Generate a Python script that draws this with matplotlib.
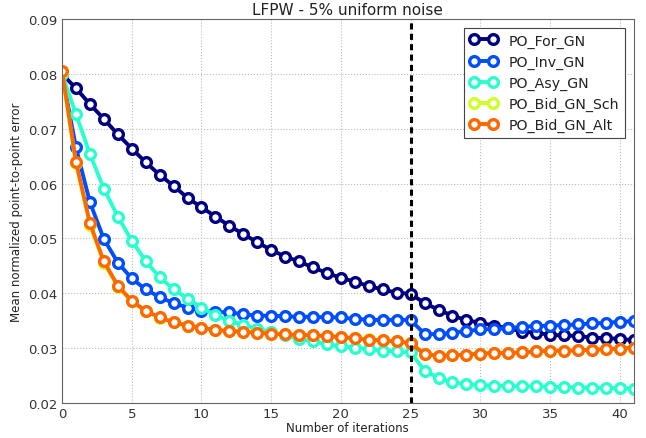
import numpy as np
import matplotlib
matplotlib.use("Agg")
import matplotlib.pyplot as plt

# mean normalized point-to-point error per iteration (iterations 0..41)
iters = np.arange(42)

po_for_gn = [0.0800, 0.0774, 0.0745, 0.0718, 0.0690, 0.0664, 0.0639, 0.0616, 0.0596, 0.0574,
             0.0557, 0.0540, 0.0523, 0.0508, 0.0493, 0.0479, 0.0467, 0.0458, 0.0447, 0.0437,
             0.0428, 0.0421, 0.0413, 0.0407, 0.0401, 0.0399, 0.0382, 0.0370, 0.0359, 0.0351,
             0.0346, 0.0341, 0.0336, 0.0330, 0.0328, 0.0324, 0.0323, 0.0322, 0.0319, 0.0318,
             0.0317, 0.0314]
po_inv_gn = [0.0800, 0.0666, 0.0566, 0.0499, 0.0456, 0.0427, 0.0407, 0.0393, 0.0382, 0.0374,
             0.0368, 0.0366, 0.0365, 0.0362, 0.0359, 0.0359, 0.0358, 0.0357, 0.0357, 0.0356,
             0.0356, 0.0353, 0.0352, 0.0351, 0.0352, 0.0351, 0.0326, 0.0325, 0.0328, 0.0331,
             0.0334, 0.0335, 0.0336, 0.0339, 0.0340, 0.0341, 0.0342, 0.0343, 0.0345, 0.0346,
             0.0348, 0.0349]
po_asy_gn = [0.0800, 0.0727, 0.0654, 0.0591, 0.0540, 0.0496, 0.0459, 0.0429, 0.0408, 0.0390,
             0.0374, 0.0360, 0.0350, 0.0342, 0.0335, 0.0330, 0.0323, 0.0317, 0.0312, 0.0307,
             0.0303, 0.0301, 0.0298, 0.0295, 0.0294, 0.0292, 0.0259, 0.0245, 0.0238, 0.0234,
             0.0232, 0.0231, 0.0231, 0.0230, 0.0230, 0.0229, 0.0229, 0.0228, 0.0228, 0.0227,
             0.0227, 0.0226]
po_bid_gn_sch = [0.0803, 0.0637, 0.0525, 0.0455, 0.0412, 0.0385, 0.0367, 0.0355, 0.0347, 0.0341,
                 0.0337, 0.0333, 0.0331, 0.0330, 0.0328, 0.0326, 0.0325, 0.0324, 0.0323, 0.0322,
                 0.0320, 0.0318, 0.0316, 0.0314, 0.0312, 0.0310, 0.0289, 0.0286, 0.0287, 0.0288,
                 0.0290, 0.0291, 0.0291, 0.0292, 0.0294, 0.0295, 0.0295, 0.0296, 0.0297, 0.0298,
                 0.0299, 0.0301]
po_bid_gn_alt = [0.0806, 0.0640, 0.0528, 0.0458, 0.0414, 0.0386, 0.0368, 0.0356, 0.0347, 0.0341,
                 0.0337, 0.0333, 0.0331, 0.0330, 0.0328, 0.0326, 0.0325, 0.0324, 0.0323, 0.0322,
                 0.0320, 0.0318, 0.0315, 0.0314, 0.0312, 0.0309, 0.0289, 0.0286, 0.0287, 0.0288,
                 0.0290, 0.0291, 0.0291, 0.0292, 0.0294, 0.0295, 0.0295, 0.0296, 0.0297, 0.0298,
                 0.0299, 0.0301]

names = ['PO_For_GN', 'PO_Inv_GN', 'PO_Asy_GN', 'PO_Bid_GN_Sch', 'PO_Bid_GN_Alt']
series = [po_for_gn, po_inv_gn, po_asy_gn, po_bid_gn_sch, po_bid_gn_alt]
colors = plt.cm.jet([0.0, 0.2, 0.4, 0.6, 0.8])

fig = plt.figure(figsize=(6.46, 4.39), dpi=100)
ax = fig.add_axes([0.096, 0.080, 0.885, 0.874])

for name, vals, c in zip(names, series, colors):
    ax.plot(iters, vals, '-o', color=c, lw=2.8, ms=7, mew=2.4,
            mfc='white', mec=c, label=name)

ax.axvline(25, color='black', ls=(0, (2.0, 1.4)), lw=2.2)

ax.set_xlim(0, 41)
ax.set_ylim(0.02, 0.09)
ax.set_xticks(np.arange(0, 41, 5))
ax.set_yticks(np.arange(0.02, 0.0901, 0.01))
ax.set_yticklabels(['%.2f' % v for v in np.arange(0.02, 0.0901, 0.01)])
ax.grid(True, ls=':', color='#bbbbbb', lw=0.8)
ax.tick_params(length=0, labelsize=9.5, labelcolor='#333333', pad=3)
for sp in ax.spines.values():
    sp.set_color('#666666')

ax.set_title('LFPW - 5% uniform noise', fontsize=11, pad=4, color='#222222')
ax.set_xlabel('Number of iterations', fontsize=8.5, labelpad=1, color='#222222')
ax.set_ylabel('Mean normalized point-to-point error', fontsize=8.5, labelpad=4,
              color='#222222')

leg = ax.legend(loc='upper right', numpoints=2, fontsize=10.2, fancybox=False,
                framealpha=1, edgecolor='#444444', handlelength=2.0,
                borderaxespad=0.6)
leg.get_frame().set_linewidth(0.8)
for t in leg.get_texts():
    t.set_color('#222222')

fig.savefig('out.png', dpi=100)
